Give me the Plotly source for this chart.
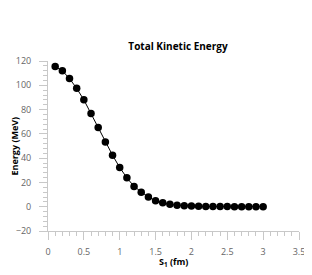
import plotly.graph_objects as go

s1 = [0.1, 0.2, 0.3, 0.4, 0.5, 0.6, 0.7, 0.8, 0.9, 1.0,
      1.1, 1.2, 1.3, 1.4, 1.5, 1.6, 1.7, 1.8, 1.9, 2.0,
      2.1, 2.2, 2.3, 2.4, 2.5, 2.6, 2.7, 2.8, 2.9, 3.0]
energy = [115.5, 112, 105.5, 97.5, 88, 76.7, 65.2, 53.3, 42.4, 32.3,
          23.8, 16.7, 12, 7.9, 5.0, 3.2, 2.0, 1.3, 0.8, 0.5,
          0.3, 0.2, 0.15, 0.1, 0.1, 0.05, 0.05, 0.05, 0.05, 0.05]

x_ticks = [0, 0.5, 1, 1.5, 2, 2.5, 3, 3.5]
x_ticklabels = ["0", "0.5", "1", "1.5", "2", "2.5", "3", "3.5"]
y_ticks = [-20, 0, 20, 40, 60, 80, 100, 120]

font = "Open Sans"
axis_col = "#c8c8c8"

# the page body has an 8px default margin, so the figure is sized to fit
W, H = 304, 267
L, R, T, B = 40, 13, 53, 44
PW, PH = W - L - R, H - T - B

fig = go.Figure()
fig.add_trace(go.Scatter(
    x=s1, y=energy, mode="lines+markers",
    line=dict(color="black", width=1),
    marker=dict(color="black", size=7.5),
    showlegend=False,
))

fig.update_layout(
    width=W, height=H,
    margin=dict(l=L, r=R, t=T, b=B, autoexpand=False),
    paper_bgcolor="white", plot_bgcolor="white",
    font=dict(family=font, size=9, color="#666666"),
    title=dict(text="<b>Total Kinetic Energy</b>", x=170 / W, xanchor="center",
               y=1 - 38 / H, yanchor="middle", automargin=False,
               font=dict(family=font, size=10, color="black")),
    annotations=[
        dict(text="<b>S<sub>1</sub> (fm)</b>", xref="paper", yref="paper",
             x=0.5, y=-31 / PH, xanchor="center", yanchor="middle",
             showarrow=False, font=dict(family=font, size=9, color="black")),
        dict(text="<b>Energy (MeV)</b>", xref="paper", yref="paper",
             x=-34.5 / PW, y=0.5, xanchor="center", yanchor="middle", textangle=-90,
             showarrow=False, font=dict(family=font, size=9, color="black")),
    ],
)
fig.update_xaxes(
    range=[0, 3.5], tickvals=x_ticks, ticktext=x_ticklabels,
    showgrid=False, zeroline=False, automargin=False,
    showline=True, linecolor=axis_col, linewidth=1,
    ticks="outside", ticklen=8, tickcolor=axis_col, tickwidth=1,
    ticklabelstandoff=4,
    minor=dict(dtick=0.1, ticks="outside", ticklen=4, tickcolor=axis_col, showgrid=False),
    tickfont=dict(family=font, size=9, color="#666666"),
)
fig.update_yaxes(
    range=[-20, 120], tickvals=y_ticks,
    showgrid=False, zeroline=False, automargin=False,
    showline=True, linecolor=axis_col, linewidth=1,
    ticks="outside", ticklen=8, tickcolor=axis_col, tickwidth=1,
    ticklabelstandoff=6,
    minor=dict(dtick=4, ticks="outside", ticklen=4, tickcolor=axis_col, showgrid=False),
    tickfont=dict(family=font, size=9, color="#666666"),
)

fig.write_html("out.html")
